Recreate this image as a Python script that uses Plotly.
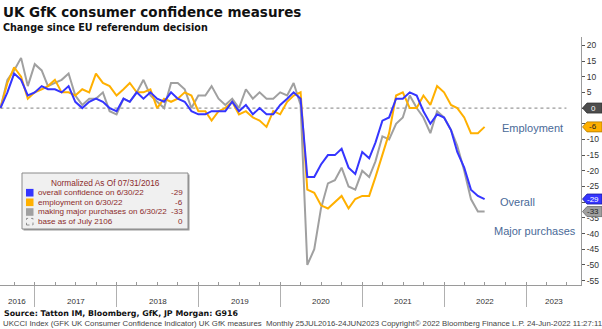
import pandas as pd
import plotly.graph_objects as go

# ---------------- data ----------------
months = pd.date_range("2016-07-31", periods=72, freq="ME")

overall = [0, 5, 11, 9, 4, 5, 7, 6, 6, 5, 7, 2,
           0, 2, 3, 2, 0, -1, 3, 2, 5, 3, 5, 3,
           2, 5, 3, 2, -1, -2, -2, -1, -1, -1, 2, -1,
           1, -2, 0, -2, -2, 1, 3, 5, 3, -22, -22, -18,
           -15, -15, -13, -19, -21, -14, -16, -11, -4, -3, 3, 3,
           5, 4, -1, -5, -2, -3, -7, -14, -19, -26, -28, -29]

employment = [0, 8, 13, 10, 3, 5, 6, 7, 9, 5, 5, 4,
              6, 5, 11, 8, 7, 4, 6, 8, 5, 5, 6, 0,
              3, 2, 3, 5, 4, -1, -1, -4, -1, 0, 2, -2,
              -1, -3, -4, -6, -1, -2, 2, 4, 5, -26, -27, -31,
              -32, -30, -28, -32, -29, -28, -28, -22, -15, -8, 4, 5,
              0, 0, 4, 1, 7, 5, 1, 0, -3, -8, -8, -6]

purchases = [0, 9, 12, 16, 7, 14, 12, 7, 8, 9, 11, 4,
             1, 3, 3, 5, -1, -2, 3, 2, 5, 9, 4, 2,
             0, 8, 8, 6, 0, 4, 4, 7, 3, 1, 3, 0,
             6, 3, 5, 3, 3, 5, 4, 8, 1, -50, -45, -32,
             -24, -23, -19, -25, -26, -20, -22, -17, -9, -10, -5, -3,
             4, 0, -3, -8, -1, -3, -7, -12, -20, -29, -33, -33]

base_dates = ["2016-07-31", "2023-06-30"]
base_vals = [0, 0]

legend_title = "Normalized As Of 07/31/2016"
legend_rows = ["overall confidence on 6/30/22", "employment on 6/30/22",
               "making major purchases on 6/30/22", "base as of July 2106"]
legend_vals = ["-29", "-6", "-33", "0"]

years = [2016, 2017, 2018, 2019, 2020, 2021, 2022, 2023]
y_ticks = list(range(-55, 21, 5))
y_hidden = [0, -5, -30]   # labels covered by the value tags in the original

x_start, x_end = "2016-07-29", "2023-09-03"

BLUE, ORANGE, GRAY, BASE = "#3535ff", "#ffb000", "#a0a0a0", "#9a9a9a"
LABEL_C = "#4a6a98"
LEG_C = "#8b2b2b"

fig = go.Figure()
fig.add_trace(go.Scatter(x=base_dates, y=base_vals, mode="lines",
                         line=dict(color=BASE, width=1.3, dash="dot"), hoverinfo="skip"))
fig.add_trace(go.Scatter(x=months, y=purchases, mode="lines",
                         line=dict(color=GRAY, width=2)))
fig.add_trace(go.Scatter(x=months, y=employment, mode="lines",
                         line=dict(color=ORANGE, width=2)))
fig.add_trace(go.Scatter(x=months, y=overall, mode="lines",
                         line=dict(color=BLUE, width=2)))

shapes = []
annotations = []

# ---- value tags on right axis ----
tags = [(0, "#4d4d4d", "white", "#333333"),
        (employment[-1], ORANGE, "#222222", "#b07a00"),
        (overall[-1], BLUE, "white", "#1a1aa0"),
        (purchases[-1], GRAY, "#222222", "#666666")]
for val, bg, fg, ln in tags:
    shapes.append(dict(type="path", xref="paper", yref="y", xsizemode="pixel", ysizemode="pixel",
                       xanchor=1, yanchor=val,
                       path="M 1.5,0 L 6,5 L 21,5 L 21,-5 L 6,-5 Z",
                       fillcolor=bg, line=dict(color=ln, width=0.8), layer="above"))
    annotations.append(dict(xref="paper", yref="y", x=1, y=val, xshift=12, yshift=0,
                            text=str(val).replace("\u2212", "-"), showarrow=False,
                            font=dict(family="Liberation Sans", size=8, color=fg),
                            xanchor="center", yanchor="middle"))

# ---- year labels centered within visible part of each year ----
xs = pd.Timestamp(x_start)
xe = pd.Timestamp(x_end)
for yr in years:
    a = max(pd.Timestamp(f"{yr}-01-01"), xs)
    b = min(pd.Timestamp(f"{yr + 1}-01-01"), xe)
    mid = a + (b - a) / 2
    annotations.append(dict(xref="x", yref="paper", x=mid, y=-0.068, text=str(yr),
                            showarrow=False, font=dict(family="Liberation Sans", size=8, color="#333333"),
                            xanchor="center", yanchor="middle"))

# ---- titles / source ----
W = 581.0
H = 248.0
def px(x):
    return x / W
def py(y):
    return (285 - y) / H

annotations += [
    dict(xref="paper", yref="paper", x=px(1), y=py(12), text="UK GfK consumer confidence measures",
         showarrow=False, xanchor="left", yanchor="middle",
         font=dict(family="DejaVu Sans", size=13.5, color="#111111", weight="bold")),
    dict(xref="paper", yref="paper", x=px(1), y=py(27), text="Change since EU referendum decision",
         showarrow=False, xanchor="left", yanchor="middle",
         font=dict(family="DejaVu Sans", size=9.6, color="#111111", weight="bold")),
    dict(xref="paper", yref="paper", x=px(2), y=py(313),
         text="Source: Tatton IM, Bloomberg, GfK, JP Morgan: G916",
         showarrow=False, xanchor="left", yanchor="middle",
         font=dict(family="DejaVu Sans", size=7.9, color="#111111", weight="bold")),
    dict(xref="paper", yref="paper", x=px(1), y=py(323.5),
         text="UKCCI Index (GFK UK Consumer Confidence Indicator) UK GfK measures  Monthly 25JUL2016-24JUN2023 "
              "Copyright\u00a9 2022 Bloomberg Finance L.P. 24-Jun-2022 11:27:11",
         showarrow=False, xanchor="left", yanchor="middle",
         font=dict(family="Liberation Sans", size=7.8, color="#444444")),
    dict(xref="paper", yref="paper", x=px(500), y=py(128), text="Employment", showarrow=False,
         xanchor="left", yanchor="middle", font=dict(family="Liberation Sans", size=11, color=LABEL_C)),
    dict(xref="paper", yref="paper", x=px(498), y=py(202), text="Overall", showarrow=False,
         xanchor="left", yanchor="middle", font=dict(family="Liberation Sans", size=11, color=LABEL_C)),
    dict(xref="paper", yref="paper", x=px(492), y=py(231), text="Major purchases", showarrow=False,
         xanchor="left", yanchor="middle", font=dict(family="Liberation Sans", size=11, color=LABEL_C)),
]

# ---- custom legend box ----
shapes.append(dict(type="rect", xref="paper", yref="paper", x0=px(23.5), x1=px(189.5), y0=py(230.5), y1=py(174.5),
                   fillcolor="#9a9a9a", line=dict(width=0), layer="above"))
shapes.append(dict(type="rect", xref="paper", yref="paper", x0=px(22), x1=px(188), y0=py(229), y1=py(173),
                   fillcolor="#f0f0f0", line=dict(color="#8a8a8a", width=1), layer="above"))
annotations.append(dict(xref="paper", yref="paper", x=px(105), y=py(183), text=legend_title, showarrow=False,
                        xanchor="center", yanchor="middle",
                        font=dict(family="Liberation Sans", size=8.3, color=LEG_C)))
row_y = [192.7, 202.3, 212, 221.7]
sq_cols = [BLUE, ORANGE, GRAY, None]
for ry, txt, val, col in zip(row_y, legend_rows, legend_vals, sq_cols):
    if col:
        shapes.append(dict(type="rect", xref="paper", yref="paper", x0=px(26), x1=px(33.5),
                           y0=py(ry + 3.8), y1=py(ry - 3.8), fillcolor=col, line=dict(width=0), layer="above"))
    else:
        shapes.append(dict(type="rect", xref="paper", yref="paper", x0=px(26.5), x1=px(33),
                           y0=py(ry + 3.3), y1=py(ry - 3.3), fillcolor="rgba(0,0,0,0)",
                           line=dict(color="#777777", width=0.8, dash="dot"), layer="above"))
    annotations.append(dict(xref="paper", yref="paper", x=px(35.5), y=py(ry), text=txt, showarrow=False,
                            xanchor="left", yanchor="middle",
                            font=dict(family="Liberation Sans", size=8.1, color=LEG_C)))
    annotations.append(dict(xref="paper", yref="paper", x=px(185), y=py(ry), text=val, showarrow=False,
                            xanchor="right", yanchor="middle",
                            font=dict(family="Liberation Sans", size=8.1, color=LEG_C)))

fig.update_layout(
    width=602, height=329,
    margin=dict(l=0, r=21, t=37, b=44),
    paper_bgcolor="white", plot_bgcolor="white",
    showlegend=False,
    shapes=shapes, annotations=annotations,
    xaxis=dict(type="date", range=[x_start, x_end], showgrid=False, zeroline=False,
               showline=True, linecolor="#9a9a9a", linewidth=1,
               tick0="2017-01-01", dtick="M12", ticks="outside", ticklen=21,
               tickcolor="#b0b0b0", tickwidth=1, showticklabels=False,
               minor=dict(dtick="M3", ticks="inside", ticklen=3, tickcolor="#9a9a9a", showgrid=False)),
    yaxis=dict(side="right", range=[-56.4, 22.65], showgrid=False, zeroline=False,
               showline=True, linecolor="#9a9a9a", linewidth=1,
               tickvals=y_ticks, ticktext=["" if v in y_hidden else str(v) for v in y_ticks],
               ticks="outside", ticklen=3, tickcolor="#555555",
               tickfont=dict(family="Liberation Sans", size=8.5, color="#333333")),
)

fig.write_html("out.html")
